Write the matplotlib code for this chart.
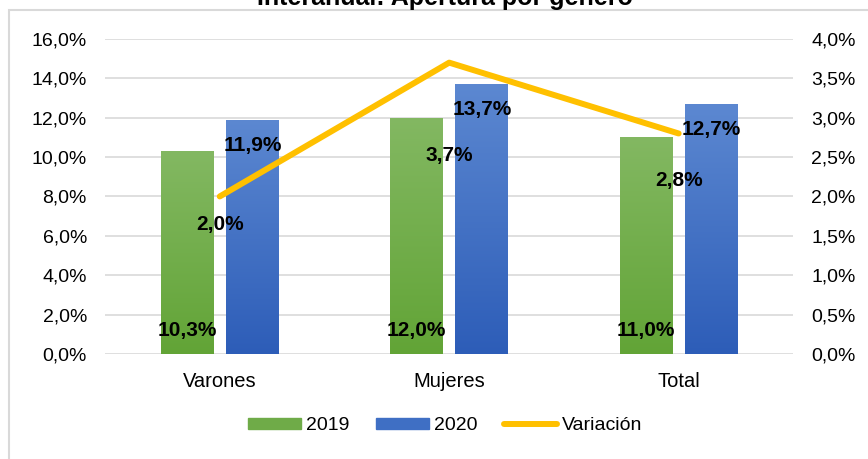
import numpy as np
import matplotlib
matplotlib.use("Agg")
import matplotlib.pyplot as plt
from matplotlib.patches import Rectangle
from matplotlib.colors import LinearSegmentedColormap

categorias = ["Varones", "Mujeres", "Total"]
valores_2019 = [10.3, 12.0, 11.0]
valores_2020 = [11.9, 13.7, 12.7]
variacion = [2.0, 3.7, 2.8]
ticks_izq = [0, 2, 4, 6, 8, 10, 12, 14, 16]
ticks_der = [0, 0.5, 1.0, 1.5, 2.0, 2.5, 3.0, 3.5, 4.0]

# posiciones de etiquetas de variación (en unidades del eje izquierdo)
y_etiq_var = [6.6, 10.1, 8.8]

plt.rcParams['font.family'] = ['Liberation Sans', 'DejaVu Sans']

verde = LinearSegmentedColormap.from_list("verde", ["#62a436", "#83b862"])
azul = LinearSegmentedColormap.from_list("azul", ["#2d5db8", "#5c88d1"])


def fmt(v):
    return f"{v:.1f}%".replace(".", ",")


fig = plt.figure(figsize=(8.68, 4.59), dpi=100)
fig.patches.append(Rectangle((9 / 868, -0.1), 1.2, (459 - 10) / 459 + 0.1,
                             transform=fig.transFigure, fill=False,
                             ec="#d9d9d9", lw=1.5, zorder=0))
fig.text(0.513, 1 - 5 / 459, "Interanual: Apertura por género",
         ha="center", va="baseline", fontsize=18, fontweight="bold")

ax = fig.add_axes([0.121, 0.229, 0.793, 0.686])
x = np.arange(len(categorias))
ancho = 0.23
desp = 0.142

barras19 = ax.bar(x - desp, valores_2019, ancho, color="none", zorder=2)
barras20 = ax.bar(x + desp, valores_2020, ancho, color="none", zorder=2)

grad = np.linspace(0, 1, 256).reshape(-1, 1)
for barras, cmap in [(barras19, verde), (barras20, azul)]:
    for b in barras:
        x0, y0 = b.get_x(), b.get_y()
        w, h = b.get_width(), b.get_height()
        im = ax.imshow(grad, cmap=cmap, origin="lower", aspect="auto",
                       extent=[x0, x0 + w, y0, y0 + h], zorder=2)
        im.set_clip_path(b)

ax.set_xlim(-0.5, 2.5)
ax.set_ylim(0, 16)
ax.set_yticks(ticks_izq)
ax.set_yticklabels([fmt(t) for t in ticks_izq], fontsize=14)
ax.set_xticks(x)
ax.set_xticklabels(categorias, fontsize=14.5)
ax.tick_params(length=0, pad=13)
ax.tick_params(axis="x", pad=13)
ax.grid(axis="y", color="#d9d9d9", lw=1.2)
ax.set_axisbelow(True)
for s in ax.spines.values():
    s.set_visible(False)

for xi, v in zip(x, valores_2019):
    ax.text(xi - desp, 1.2, fmt(v), ha="center", va="center",
            fontsize=15, fontweight="bold", zorder=5)
for xi, v in zip(x, valores_2020):
    ax.text(xi + desp, v - 1.3, fmt(v), ha="center", va="center",
            fontsize=15, fontweight="bold", zorder=5)

ax2 = ax.twinx()
ax2.plot(x, variacion, color="#ffc000", lw=4.3, solid_capstyle="round",
         zorder=4)
ax2.set_ylim(0, 4)
ax2.set_yticks(ticks_der)
ax2.set_yticklabels([fmt(t) for t in ticks_der], fontsize=14)
ax2.tick_params(length=0, pad=13)
for s in ax2.spines.values():
    s.set_visible(False)

for xi, v, yl in zip(x, variacion, y_etiq_var):
    ax.text(xi, yl, fmt(v), ha="center", va="center",
            fontsize=15, fontweight="bold", zorder=6)

handles = [Rectangle((0, 0), 1, 1, color="#6fab48"),
           Rectangle((0, 0), 1, 1, color="#3f6fc4"),
           plt.Line2D([], [], color="#ffc000", lw=4.3, solid_capstyle="round")]
fig.legend(handles, ["2019", "2020", "Variación"], loc="center",
           bbox_to_anchor=(0.513, 1 - 426 / 459), ncol=3, frameon=False,
           fontsize=14, handlelength=2.7, handleheight=0.45,
           columnspacing=1.4, handletextpad=0.25)

fig.savefig("out.png", dpi=100)
